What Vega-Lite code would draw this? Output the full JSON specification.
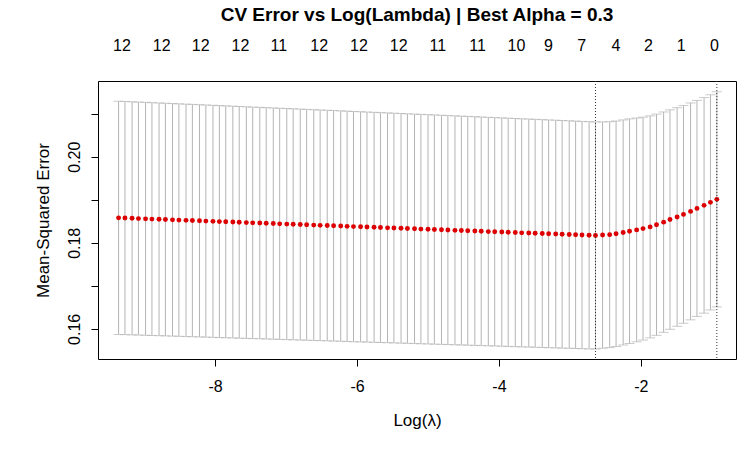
{
  "$schema": "https://vega.github.io/schema/vega-lite/v6.json",
  "width": 638,
  "height": 278,
  "padding": {"left": 34, "top": 6, "right": 6, "bottom": 5},
  "background": "white",
  "config": {
    "font": "Liberation Sans",
    "view": {"stroke": "black", "strokeWidth": 1},
    "axis": {"grid": false, "labelColor": "black", "labelFontSize": 16, "titleFontSize": 16, "titleFontWeight": "normal", "titleColor": "black", "domain": false, "tickColor": "black", "tickSize": 7}
  },
  "title": {"text": "CV Error vs Log(Lambda) | Best Alpha = 0.3", "fontSize": 19, "fontWeight": "bold", "color": "black", "offset": 12},
  "datasets": {
    "cv": [
      {"x": -9.36, "m": 0.18580, "e": 0.02710}, {"x": -9.27, "m": 0.18575, "e": 0.02709},
      {"x": -9.17, "m": 0.18569, "e": 0.02708}, {"x": -9.08, "m": 0.18563, "e": 0.02707},
      {"x": -8.98, "m": 0.18557, "e": 0.02706}, {"x": -8.89, "m": 0.18551, "e": 0.02705},
      {"x": -8.79, "m": 0.18546, "e": 0.02704}, {"x": -8.70, "m": 0.18540, "e": 0.02703},
      {"x": -8.60, "m": 0.18534, "e": 0.02702}, {"x": -8.51, "m": 0.18528, "e": 0.02701},
      {"x": -8.41, "m": 0.18522, "e": 0.02700}, {"x": -8.32, "m": 0.18517, "e": 0.02699},
      {"x": -8.22, "m": 0.18511, "e": 0.02698}, {"x": -8.13, "m": 0.18505, "e": 0.02697},
      {"x": -8.03, "m": 0.18499, "e": 0.02696}, {"x": -7.94, "m": 0.18493, "e": 0.02695},
      {"x": -7.85, "m": 0.18488, "e": 0.02694}, {"x": -7.75, "m": 0.18482, "e": 0.02693},
      {"x": -7.66, "m": 0.18476, "e": 0.02692}, {"x": -7.56, "m": 0.18470, "e": 0.02691},
      {"x": -7.47, "m": 0.18464, "e": 0.02690}, {"x": -7.37, "m": 0.18459, "e": 0.02689},
      {"x": -7.28, "m": 0.18453, "e": 0.02688}, {"x": -7.18, "m": 0.18447, "e": 0.02687},
      {"x": -7.09, "m": 0.18441, "e": 0.02686}, {"x": -6.99, "m": 0.18435, "e": 0.02685},
      {"x": -6.90, "m": 0.18430, "e": 0.02684}, {"x": -6.80, "m": 0.18424, "e": 0.02683},
      {"x": -6.71, "m": 0.18418, "e": 0.02682}, {"x": -6.61, "m": 0.18412, "e": 0.02681},
      {"x": -6.52, "m": 0.18406, "e": 0.02680}, {"x": -6.42, "m": 0.18401, "e": 0.02679},
      {"x": -6.33, "m": 0.18395, "e": 0.02678}, {"x": -6.23, "m": 0.18389, "e": 0.02677},
      {"x": -6.14, "m": 0.18383, "e": 0.02676}, {"x": -6.05, "m": 0.18377, "e": 0.02675},
      {"x": -5.95, "m": 0.18372, "e": 0.02674}, {"x": -5.86, "m": 0.18366, "e": 0.02673},
      {"x": -5.76, "m": 0.18360, "e": 0.02672}, {"x": -5.67, "m": 0.18354, "e": 0.02671},
      {"x": -5.57, "m": 0.18348, "e": 0.02670}, {"x": -5.48, "m": 0.18343, "e": 0.02669},
      {"x": -5.38, "m": 0.18337, "e": 0.02668}, {"x": -5.29, "m": 0.18331, "e": 0.02667},
      {"x": -5.19, "m": 0.18325, "e": 0.02666}, {"x": -5.10, "m": 0.18319, "e": 0.02665},
      {"x": -5.00, "m": 0.18314, "e": 0.02664}, {"x": -4.91, "m": 0.18308, "e": 0.02663},
      {"x": -4.81, "m": 0.18302, "e": 0.02662}, {"x": -4.72, "m": 0.18296, "e": 0.02661},
      {"x": -4.62, "m": 0.18290, "e": 0.02660}, {"x": -4.53, "m": 0.18285, "e": 0.02659},
      {"x": -4.44, "m": 0.18279, "e": 0.02658}, {"x": -4.34, "m": 0.18273, "e": 0.02657},
      {"x": -4.25, "m": 0.18267, "e": 0.02656}, {"x": -4.15, "m": 0.18261, "e": 0.02655},
      {"x": -4.06, "m": 0.18256, "e": 0.02654}, {"x": -3.96, "m": 0.18250, "e": 0.02653},
      {"x": -3.87, "m": 0.18244, "e": 0.02652}, {"x": -3.77, "m": 0.18238, "e": 0.02651},
      {"x": -3.68, "m": 0.18232, "e": 0.02650}, {"x": -3.58, "m": 0.18227, "e": 0.02649},
      {"x": -3.49, "m": 0.18221, "e": 0.02648}, {"x": -3.39, "m": 0.18215, "e": 0.02647},
      {"x": -3.30, "m": 0.18209, "e": 0.02646}, {"x": -3.20, "m": 0.18203, "e": 0.02645},
      {"x": -3.11, "m": 0.18198, "e": 0.02644}, {"x": -3.01, "m": 0.18192, "e": 0.02643},
      {"x": -2.92, "m": 0.18186, "e": 0.02642}, {"x": -2.83, "m": 0.18180, "e": 0.02641},
      {"x": -2.73, "m": 0.18175, "e": 0.02640}, {"x": -2.64, "m": 0.18170, "e": 0.02638},
      {"x": -2.54, "m": 0.18180, "e": 0.02630}, {"x": -2.44, "m": 0.18190, "e": 0.02625},
      {"x": -2.35, "m": 0.18210, "e": 0.02620}, {"x": -2.25, "m": 0.18240, "e": 0.02615},
      {"x": -2.16, "m": 0.18270, "e": 0.02610}, {"x": -2.06, "m": 0.18300, "e": 0.02600},
      {"x": -1.97, "m": 0.18330, "e": 0.02590}, {"x": -1.87, "m": 0.18370, "e": 0.02580},
      {"x": -1.78, "m": 0.18420, "e": 0.02570}, {"x": -1.68, "m": 0.18480, "e": 0.02560},
      {"x": -1.59, "m": 0.18540, "e": 0.02550}, {"x": -1.49, "m": 0.18600, "e": 0.02540},
      {"x": -1.40, "m": 0.18660, "e": 0.02530}, {"x": -1.30, "m": 0.18730, "e": 0.02520},
      {"x": -1.21, "m": 0.18800, "e": 0.02510}, {"x": -1.11, "m": 0.18870, "e": 0.02505},
      {"x": -1.02, "m": 0.18940, "e": 0.02500}, {"x": -0.93, "m": 0.19010, "e": 0.02500}
    ]
  },
  "resolve": {"axis": {"x": "independent"}},
  "layer": [
    {
      "data": {"name": "cv"},
      "mark": {"type": "errorbar", "ticks": {"size": 10, "color": "#b4b4b4"}, "color": "#b4b4b4", "strokeWidth": 1},
      "encoding": {
        "x": {"field": "x", "type": "quantitative", "scale": {"domain": [-9.65, -0.66], "nice": false, "zero": false},
          "axis": {"orient": "bottom", "values": [-8, -6, -4, -2], "labelExpr": "'-' + abs(datum.value)", "title": "Log(λ)", "titleFontSize": 17, "titlePadding": 18, "labelPadding": 12}},
        "y": {"field": "m", "type": "quantitative", "scale": {"domain": [0.153, 0.2176], "nice": false, "zero": false},
          "axis": {"title": "Mean-Squared Error", "values": [0.16, 0.17, 0.18, 0.19, 0.2, 0.21], "labelExpr": "abs(datum.value*100 - round(datum.value*50)*2) < 0.01 ? format(datum.value, '.2f') : ''", "labelAngle": -90, "labelAlign": "center", "labelBaseline": "bottom", "labelPadding": 9, "titlePadding": 14, "titleFontSize": 17}},
        "yError": {"field": "e"}
      }
    },
    {
      "data": {"name": "cv"},
      "mark": {"type": "circle", "color": "#dd0000", "opacity": 1, "size": 24},
      "encoding": {
        "x": {"field": "x", "type": "quantitative",
          "axis": {"orient": "top", "values": [-9.32, -8.76, -8.21, -7.65, -7.11, -6.54, -5.98, -5.42, -4.87, -4.31, -3.76, -3.31, -2.84, -2.36, -1.9, -1.44, -0.97],
            "labelExpr": "['12','12','12','12','11','12','12','12','11','11','10','9','7','4','2','1','0'][indexof([-9.32,-8.76,-8.21,-7.65,-7.11,-6.54,-5.98,-5.42,-4.87,-4.31,-3.76,-3.31,-2.84,-2.36,-1.9,-1.44,-0.97], datum.value)]",
            "ticks": false, "title": null, "labelPadding": 28, "labelFontSize": 16}},
        "y": {"field": "m", "type": "quantitative"}
      }
    },
    {
      "data": {"values": [{"x": -2.64}, {"x": -0.93}]},
      "mark": {"type": "rule", "color": "#333333", "strokeDash": [1, 2], "strokeWidth": 1},
      "encoding": {"x": {"field": "x", "type": "quantitative", "axis": null}}
    }
  ]
}
